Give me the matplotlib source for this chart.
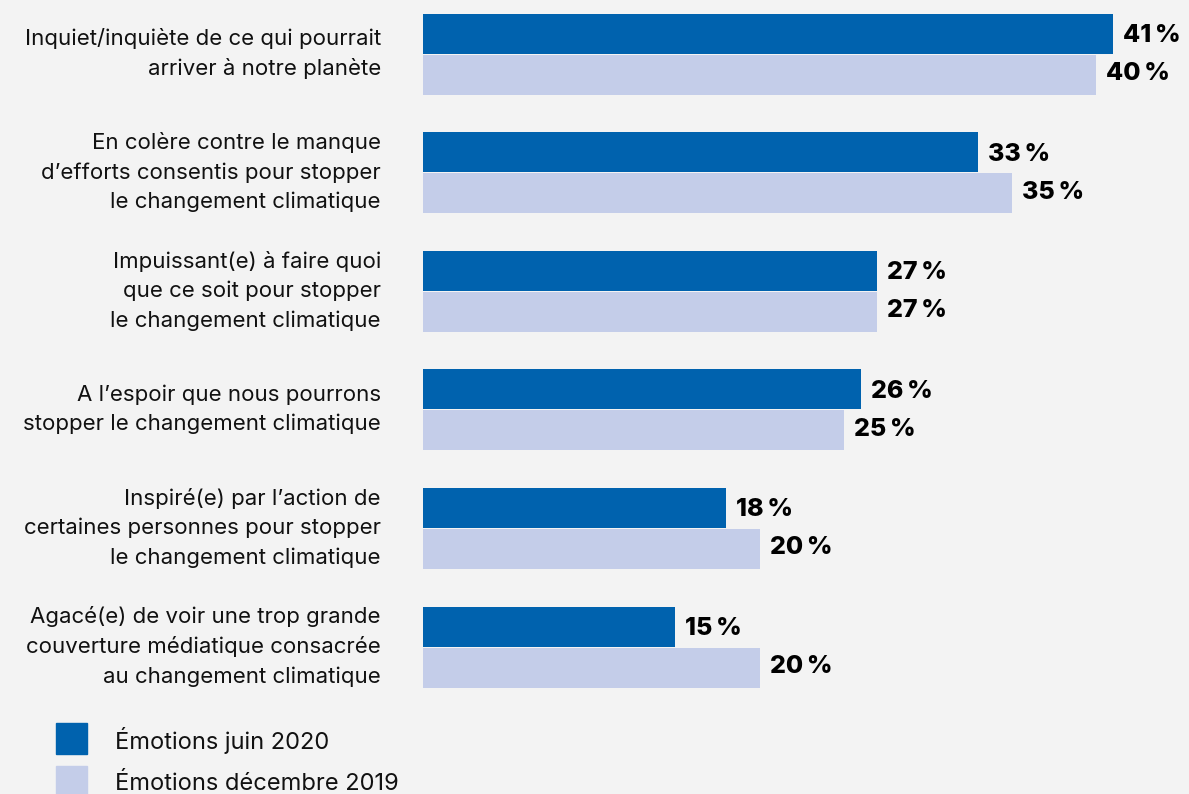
import numpy as np
import matplotlib.pyplot as plt
from matplotlib.patches import Rectangle

plt.rcParams['font.family'] = ['Inter', 'DejaVu Sans']

# Survey answers, two waves
categories = [
    "Inquiet/inquiète de ce qui pourrait\narriver à notre planète",
    "En colère contre le manque\nd’efforts consentis pour stopper\nle changement climatique",
    "Impuissant(e) à faire quoi\nque ce soit pour stopper\nle changement climatique",
    "A l’espoir que nous pourrons\nstopper le changement climatique",
    "Inspiré(e) par l’action de\ncertaines personnes pour stopper\nle changement climatique",
    "Agacé(e) de voir une trop grande\ncouverture médiatique consacrée\nau changement climatique",
]
juin_2020 = [41, 33, 27, 26, 18, 15]
dec_2019 = [40, 35, 27, 25, 20, 20]
series_names = ["Émotions juin 2020", "Émotions décembre 2019"]

dark = '#0062ae'
light = '#c4cde9'
bg = '#f3f3f3'

W, H = 1189, 794
fig = plt.figure(figsize=(W / 100, H / 100), dpi=100, facecolor=bg)
# axes start where the bars start; 1 % ~ 16.83 px
x0 = 423
ax = fig.add_axes([x0 / W, 0, (W - x0) / W, 1])
ax.set_facecolor(bg)
ax.set_xlim(0, (W - x0) / 16.83)
step = 118.6
ax.set_ylim(H / step, 0)

pos = np.arange(len(categories)) + 53.5 / step
bh = 40 / step
ax.barh(pos - bh / 2, juin_2020, height=bh, color=dark, edgecolor='none')
ax.barh(pos + bh / 2 + 1 / step, dec_2019, height=bh, color=light, edgecolor='none')

for y, a, b in zip(pos, juin_2020, dec_2019):
    ax.annotate(f"{a}\u2009%", (a, y - bh / 2), xytext=(10, -2), textcoords='offset pixels',
                ha='left', va='center', fontsize=18, fontweight='heavy', color='black')
    ax.annotate(f"{b}\u2009%", (b, y + bh / 2), xytext=(10, 0), textcoords='offset pixels',
                ha='left', va='center', fontsize=18, fontweight='heavy', color='black')

for y, label in zip(pos, categories):
    ax.annotate(label, (0, y), xytext=(-42, 0), textcoords='offset pixels',
                ha='right', va='center', fontsize=16, linespacing=1.55, color='#111111',
                annotation_clip=False)

ax.axis('off')

# legend drawn by hand in pixel positions
for i, (name, c) in enumerate(zip(series_names, [dark, light])):
    top = 723 + i * 43
    fig.add_artist(Rectangle((56 / W, 1 - (top + 31) / H), 31 / W, 31 / H,
                             transform=fig.transFigure, color=c))
    fig.text(115 / W, 1 - (top + 18) / H, name, ha='left', va='center',
             fontsize=17, color='#111111')

fig.savefig('out.png', dpi=100, facecolor=bg)
